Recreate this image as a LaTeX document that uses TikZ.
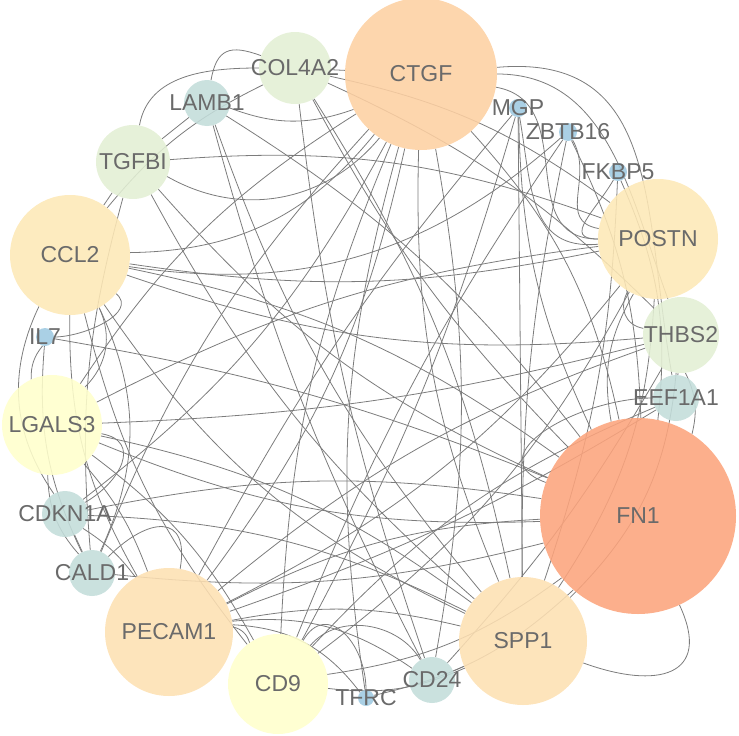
\documentclass[tikz,border=0pt]{standalone}
\usepackage{fontspec}
\setmainfont{Liberation Sans}
\usetikzlibrary{backgrounds}
\definecolor{cFN}{HTML}{FCA47C}
\definecolor{cCT}{HTML}{FDD0A2}
\definecolor{cSP}{HTML}{FDE0B2}
\definecolor{cPO}{HTML}{FDE8B6}
\definecolor{cYE}{HTML}{FFFFCC}
\definecolor{cGR}{HTML}{E3EFD4}
\definecolor{cTE}{HTML}{C3DDDA}
\definecolor{cBL}{HTML}{9ECAE1}
\definecolor{edgec}{HTML}{7C7C7C}
\definecolor{labc}{HTML}{6A6A6A}
\begin{document}
\begin{tikzpicture}[x=1pt,y=-1pt,
  gene/.style={circle, inner sep=0pt, draw=none, fill opacity=0.88},
  lab/.style={text=labc, inner sep=0pt, font=\fontsize{23}{25}\selectfont},
  e/.style={draw=edgec, line width=0.8pt}]
\useasboundingbox (0,0) rectangle (739,736);
% nodes (circles)
\node[gene, fill=cCT, minimum size=152pt] (CTGF) at (421,74) {};
\node[gene, fill=cBL, minimum size=18pt] (MGP) at (518,108) {};
\node[gene, fill=cBL, minimum size=18pt] (ZBTB16) at (568,132) {};
\node[gene, fill=cBL, minimum size=18pt] (FKBP5) at (618,172) {};
\node[gene, fill=cPO, minimum size=120pt] (POSTN) at (658,239) {};
\node[gene, fill=cGR, minimum size=76pt] (THBS2) at (681,335) {};
\node[gene, fill=cTE, minimum size=46pt] (EEF1A1) at (676,398) {};
\node[gene, fill=cFN, minimum size=196pt] (FN1) at (638,516) {};
\node[gene, fill=cSP, minimum size=128pt] (SPP1) at (523,641) {};
\node[gene, fill=cTE, minimum size=46pt] (CD24) at (432,680) {};
\node[gene, fill=cBL, minimum size=16pt] (TFRC) at (366,698) {};
\node[gene, fill=cYE, minimum size=100pt] (CD9) at (278,684) {};
\node[gene, fill=cSP, minimum size=128pt] (PECAM1) at (169,632) {};
\node[gene, fill=cTE, minimum size=46pt] (CALD1) at (92,573) {};
\node[gene, fill=cTE, minimum size=46pt] (CDKN1A) at (65,514) {};
\node[gene, fill=cYE, minimum size=100pt] (LGALS3) at (52,425) {};
\node[gene, fill=cBL, minimum size=18pt] (IL7) at (45,337) {};
\node[gene, fill=cPO, minimum size=120pt] (CCL2) at (70,255) {};
\node[gene, fill=cGR, minimum size=74pt] (TGFBI) at (133,162) {};
\node[gene, fill=cTE, minimum size=46pt] (LAMB1) at (207,103) {};
\node[gene, fill=cGR, minimum size=72pt] (COL4A2) at (295,68) {};
% labels
\foreach \n in {CTGF,MGP,ZBTB16,FKBP5,POSTN,THBS2,EEF1A1,FN1,SPP1,CD24,TFRC,CD9,PECAM1,CALD1,CDKN1A,LGALS3,IL7,CCL2,TGFBI,LAMB1,COL4A2}
  \node[lab] (\n-l) at (\n.center) {\n};
% edges
\begin{scope}[on background layer]
% FN1
\draw[e] (FN1) to[bend right=15] (CTGF);
\draw[e] (FN1) to[out=-65, in=-20, looseness=1.8] (SPP1);
\draw[e] (FN1) to[bend left=20] (POSTN);
\draw[e] (FN1) to[bend right=20] (THBS2);
\draw[e] (EEF1A1) to[out=180, in=160, looseness=1.4] (FN1);
\draw[e] (FN1) to[bend right=12] (CCL2);
\draw[e] (FN1) to[bend left=12] (TGFBI);
\draw[e] (FN1) to[bend left=8] (COL4A2);
\draw[e] (FN1) to[bend right=10] (LAMB1);
\draw[e] (FN1) to[bend left=12] (LGALS3);
\draw[e] (FN1) to[bend right=10] (CDKN1A);
\draw[e] (FN1) to[bend left=10] (CALD1);
\draw[e] (FN1) to[bend right=12] (PECAM1);
\draw[e] (FN1) to[bend left=14] (CD9);
\draw[e] (FN1) to[bend right=6] (IL7);
\draw[e] (FN1) to[bend right=12] (ZBTB16);
\draw[e] (FN1) to[bend left=12] (MGP);
\draw[e] (FN1) to[bend right=15] (FKBP5);
\draw[e] (FN1) to[bend left=15] (TFRC);
% CTGF
\draw[e] (CTGF) to[bend right=12] (SPP1);
\draw[e] (CTGF) to[out=-10, in=180, looseness=1.2] (POSTN);
\draw[e] (CTGF) to[out=0, in=110, looseness=1] (THBS2);
\draw[e] (CTGF) to[out=5, in=100, looseness=1.2] (EEF1A1);
\draw[e] (CTGF) to[bend left=25] (CCL2);
\draw[e] (CTGF) to[bend left=40] (TGFBI);
\draw[e] (CTGF) -- (COL4A2);
\draw[e] (CTGF) to[bend right=12] (LGALS3);
\draw[e] (CTGF) to[bend left=12] (CDKN1A);
\draw[e] (CTGF) to[bend right=10] (CALD1);
\draw[e] (CTGF) to[bend left=12] (PECAM1);
\draw[e] (CTGF) to[bend right=10] (CD9);
\draw[e] (CTGF) to[bend left=10] (CD24);
\draw[e] (CTGF) to[bend left=20] (LAMB1);
\draw[e] (CTGF) to[bend right=12] (TFRC);
% SPP1
\draw[e] (SPP1) to[bend right=15] (POSTN);
\draw[e] (SPP1) to[bend left=15] (CCL2);
\draw[e] (SPP1) to[bend right=12] (LGALS3);
\draw[e] (SPP1) to[bend right=12] (PECAM1);
\draw[e] (SPP1) to[bend left=15] (CD9);
\draw[e] (SPP1) -- (CD24);
\draw[e] (SPP1) -- (MGP);
\draw[e] (SPP1) to[bend left=10] (TGFBI);
\draw[e] (SPP1) to[bend right=12] (CDKN1A);
\draw[e] (SPP1) to[bend left=6] (ZBTB16);
\draw[e] (SPP1) to[bend right=20] (THBS2);
\draw[e] (SPP1) to[bend right=10] (COL4A2);
\draw[e] (SPP1) to[bend left=10] (LAMB1);
\draw[e] (SPP1) to[bend right=8] (FKBP5);
% PECAM1
\draw[e] (PECAM1) to[bend left=15] (CCL2);
\draw[e] (PECAM1) to[bend left=30] (CD9);
\draw[e] (PECAM1) to[bend left=20] (CD24);
\draw[e] (PECAM1) to[bend left=25] (TFRC);
\draw[e] (PECAM1) to[bend right=10] (LGALS3);
\draw[e] (CALD1) to[out=45, in=80, looseness=2] (PECAM1);
\draw[e] (PECAM1) to[bend right=12] (POSTN);
\draw[e] (PECAM1) to[bend left=10] (THBS2);
\draw[e] (PECAM1) to[bend right=6] (EEF1A1);
\draw[e] (PECAM1) to[bend right=10] (CDKN1A);
\draw[e] (PECAM1) to[bend left=6] (MGP);
% POSTN
\draw[e] (POSTN) to[out=-120, in=170, looseness=1.2] (THBS2);
\draw[e] (POSTN) to[bend right=12] (TGFBI);
\draw[e] (POSTN) to[bend right=12] (COL4A2);
\draw[e] (POSTN) to[bend left=10] (CCL2);
\draw[e] (ZBTB16) to[out=-60, in=170, looseness=1.2] (POSTN);
\draw[e] (FKBP5) to[out=-120, in=180, looseness=1.5] (POSTN);
\draw[e] (MGP) to[out=-80, in=185, looseness=1.2] (POSTN);
\draw[e] (POSTN) to[bend right=10] (LGALS3);
\draw[e] (POSTN) to[bend left=12] (CD9);
% CCL2
\draw[e] (IL7) to[out=0, in=-40, looseness=1] (CCL2);
\draw[e] (CCL2) to[bend left=35] (LGALS3);
\draw[e] (CCL2) -- (TGFBI);
\draw[e] (CCL2) to[bend right=30] (CDKN1A);
\draw[e] (CCL2) to[bend right=12] (CD9);
\draw[e] (CCL2) to[bend left=25] (CALD1);
\draw[e] (CCL2) to[bend left=12] (COL4A2);
\draw[e] (CCL2) to[bend right=12] (THBS2);
\draw[e] (CCL2) to[bend right=25] (ZBTB16);
% CD9
\draw[e] (CD9) to[out=50, in=120, looseness=1] (CD24);
\draw[e] (CD9) to[out=60, in=90, looseness=1.5] (TFRC);
\draw[e] (CD9) to[bend right=12] (LGALS3);
\draw[e] (CD9) to[bend right=6] (MGP);
\draw[e] (CD9) to[bend left=12] (EEF1A1);
\draw[e] (CD9) to[bend left=6] (ZBTB16);
% LGALS3
\draw[e] (LGALS3) to[out=-10, in=30, looseness=1.5] (CDKN1A);
\draw[e] (LGALS3) to[bend right=20] (CALD1);
\draw[e] (LGALS3) to[bend left=20] (IL7);
\draw[e] (LGALS3) to[bend right=6] (THBS2);
% TGFBI / COL4A2 / others
\draw[e] (TGFBI) -- (LAMB1);
\draw[e] (TGFBI) to[out=80, in=180, looseness=1] (COL4A2);
\draw[e] (TGFBI) to[bend right=10] (CALD1);
\draw[e] (LAMB1) to[out=80, in=160, looseness=1.5] (COL4A2);
\draw[e] (COL4A2) to[bend left=10] (THBS2);
\draw[e] (COL4A2) to[bend right=6] (CD24);
\draw[e] (THBS2) to[bend left=6] (CD24);
\draw[e] (THBS2) -- (EEF1A1);
\draw[e] (CDKN1A) -- (CALD1);
\draw[e] (LAMB1) to[bend right=6] (CD24);
\draw[e] (IL7) to[bend right=15] (CALD1);
\end{scope}
\end{tikzpicture}
\end{document}
